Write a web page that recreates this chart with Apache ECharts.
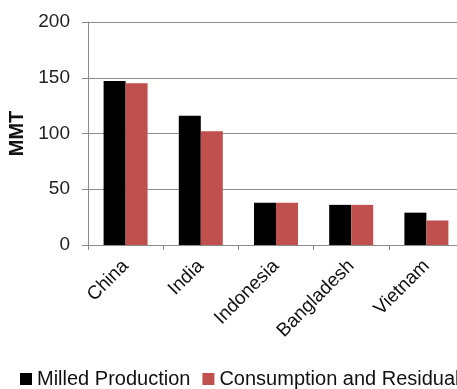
<!DOCTYPE html>
<html>
<head>
<meta charset="utf-8">
<script src="https://cdn.jsdelivr.net/npm/echarts@6/dist/echarts.min.js"></script>
<style>
  html, body { margin: 0; padding: 0; background: #fff; }
  #chart { width: 457px; height: 389px; }
</style>
</head>
<body>
<div id="chart"></div>
<script>
// Rice by country, million metric tons
const countries = ['China', 'India', 'Indonesia', 'Bangladesh', 'Vietnam'];
const milledProduction = [147, 116, 38, 36, 29];
const consumptionResidual = [145, 102, 38, 36, 22];
const seriesNames = ['Milled Production', 'Consumption and Residual'];
const yTicks = { min: 0, max: 200, interval: 50 };

const chart = echarts.init(document.getElementById('chart'), null, { renderer: 'canvas' });

const gridGrey = '#8c8c8c';

chart.setOption({
  backgroundColor: '#ffffff',
  animation: false,
  grid: {
    left: 88,
    top: 22,
    width: 376,
    height: 223,
    outerBoundsMode: 'none',
    containLabel: false
  },
  legend: {
    left: 20,
    top: 369,
    width: 700,
    padding: 0,
    itemWidth: 12,
    itemHeight: 12,
    itemGap: 12,
    icon: 'rect',
    textStyle: {
      fontFamily: 'Liberation Sans',
      fontSize: 20,
      color: '#111'
    },
    data: seriesNames
  },
  xAxis: {
    type: 'category',
    data: countries,
    boundaryGap: true,
    axisLine: { show: true, lineStyle: { color: gridGrey, width: 1 } },
    axisTick: { show: true, length: 5, alignWithLabel: false, lineStyle: { color: gridGrey } },
    axisLabel: {
      rotate: 45,
      margin: 18,
      interval: 0,
      fontFamily: 'Liberation Sans',
      fontSize: 19,
      color: '#111'
    },
    splitLine: { show: false }
  },
  yAxis: {
    type: 'value',
    min: yTicks.min,
    max: yTicks.max,
    interval: yTicks.interval,
    name: 'MMT',
    nameLocation: 'middle',
    nameGap: 58,
    nameRotate: 90,
    nameTextStyle: {
      fontFamily: 'Liberation Sans',
      fontWeight: 'bold',
      fontSize: 20,
      color: '#111'
    },
    axisLine: { show: true, lineStyle: { color: gridGrey, width: 1 } },
    axisTick: { show: true, length: 6, lineStyle: { color: gridGrey } },
    axisLabel: {
      margin: 18,
      fontFamily: 'Liberation Sans',
      fontSize: 19,
      color: '#222'
    },
    splitLine: { show: true, lineStyle: { color: gridGrey, width: 1 } }
  },
  series: [
    {
      name: seriesNames[0],
      type: 'bar',
      data: milledProduction,
      barWidth: 22,
      barGap: '0%',
      itemStyle: { color: '#000000' }
    },
    {
      name: seriesNames[1],
      type: 'bar',
      data: consumptionResidual,
      barWidth: 22,
      barGap: '0%',
      itemStyle: { color: '#C0504D' }
    }
  ]
});
</script>
</body>
</html>
